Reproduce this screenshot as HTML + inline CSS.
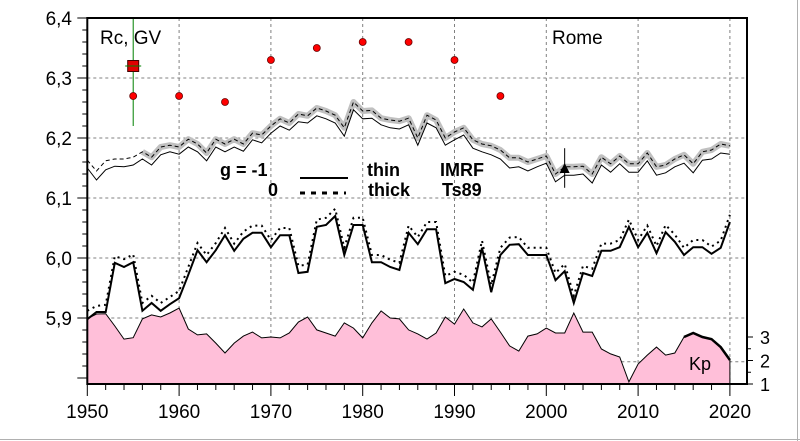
<!DOCTYPE html>
<html><head><meta charset="utf-8"><style>
html,body{margin:0;padding:0;background:#fff;}
svg{display:block;font-family:"Liberation Sans",Arial,sans-serif;}
</style></head><body>
<svg id="chart" width="800" height="441" viewBox="0 0 800 441">
<line x1="797.5" y1="0" x2="797.5" y2="441" stroke="#b0b0b0"/>
<line x1="0" y1="439.5" x2="800" y2="439.5" stroke="#b0b0b0"/>
<g id="grid"></g>
<g id="series"></g>
<g id="axes"></g>
<text x="100" y="44" font-size="19">Rc, GV</text>
<text x="552" y="44" font-size="19">Rome</text>
<text x="689" y="370" font-size="18">Kp</text>
<g font-weight="bold" font-size="18">
<text x="220" y="176">g  = -1</text>
<line x1="300" y1="178" x2="348" y2="178" stroke="#000" stroke-width="2"/>
<text x="367" y="176">thin</text>
<text x="440" y="176">IMRF</text>
<text x="268" y="196">0</text>
<line x1="300" y1="193" x2="346" y2="193" stroke="#000" stroke-width="3" stroke-dasharray="5,6"/>
<text x="368" y="196">thick</text>
<text x="442" y="196">Ts89</text>
</g>
</svg>
<script>
const years = [];
for (let y = 1950; y <= 2020; y++) years.push(y);
const thinUpper = [6.150,6.130,6.147,6.153,6.152,6.155,6.165,6.155,6.172,6.177,
6.173,6.185,6.177,6.162,6.185,6.177,6.185,6.178,6.197,6.192,
6.208,6.220,6.213,6.227,6.225,6.237,6.232,6.225,6.203,6.247,
6.232,6.233,6.222,6.217,6.215,6.222,6.188,6.225,6.217,6.188,
6.197,6.205,6.183,6.177,6.172,6.165,6.150,6.152,6.145,6.152,
6.158,6.127,6.138,6.138,6.140,6.125,6.155,6.143,6.157,6.143,
6.143,6.162,6.138,6.142,6.152,6.158,6.142,6.163,6.165,6.175,6.173];
const thickUpper = [6.163,6.145,6.162,6.165,6.165,6.168,6.177,6.168,6.185,6.188,
6.185,6.198,6.190,6.175,6.198,6.190,6.198,6.190,6.208,6.205,
6.220,6.232,6.225,6.240,6.237,6.250,6.245,6.238,6.217,6.260,
6.245,6.246,6.233,6.230,6.228,6.233,6.200,6.238,6.230,6.200,
6.210,6.217,6.197,6.190,6.187,6.180,6.167,6.167,6.160,6.165,
6.170,6.140,6.152,6.152,6.153,6.140,6.168,6.157,6.170,6.157,
6.157,6.175,6.152,6.155,6.165,6.172,6.157,6.177,6.180,6.190,6.187];
const lowSolid = [5.898,5.910,5.910,5.992,5.985,5.993,5.912,5.925,5.912,5.923,
5.933,5.972,6.013,5.993,6.013,6.038,6.012,6.032,6.042,6.042,
6.018,6.038,6.038,5.975,5.977,6.052,6.055,6.070,6.005,6.055,
6.055,5.993,5.993,5.985,5.980,6.042,6.023,6.048,6.048,5.958,
5.965,5.960,5.947,6.017,5.943,6.005,6.022,6.023,6.005,6.005,
6.005,5.963,5.978,5.925,5.975,5.970,6.012,6.012,6.018,6.052,
6.018,6.042,6.008,6.043,6.027,6.005,6.018,6.018,6.007,6.017,6.060];
const lowDotted = [5.912,5.920,5.922,6.003,5.998,6.006,5.925,5.937,5.925,5.935,
5.945,5.985,6.025,6.005,6.025,6.050,6.024,6.044,6.054,6.054,
6.030,6.050,6.050,5.987,5.989,6.064,6.067,6.082,6.017,6.067,
6.067,6.005,6.005,5.997,5.992,6.054,6.035,6.060,6.060,5.970,
5.977,5.972,5.959,6.029,5.955,6.017,6.034,6.035,6.017,6.017,
6.017,5.975,5.990,5.937,5.987,5.982,6.024,6.024,6.030,6.064,
6.030,6.054,6.020,6.055,6.039,6.017,6.030,6.030,6.019,6.029,6.072];
const kp = [3.78,3.98,3.99,3.47,2.91,2.97,3.77,3.94,3.85,4.02,
4.23,3.34,3.09,3.13,2.74,2.32,2.74,3.04,3.21,2.96,
3.00,2.96,3.17,3.64,3.85,3.30,3.17,3.04,3.60,3.38,
2.96,3.60,4.11,3.81,3.77,3.30,3.13,2.91,3.17,3.85,
3.55,4.19,3.60,3.43,3.77,3.21,2.62,2.40,3.04,3.13,
3.38,3.17,3.17,4.02,3.21,3.21,2.49,2.28,2.15,1.09,
1.85,2.23,2.57,2.23,2.32,3.00,3.17,3.00,2.91,2.57,2.02];
const dotYears = [1955,1960,1965,1970,1975,1980,1985,1990,1995];
const dotValues = [6.27,6.27,6.26,6.33,6.35,6.36,6.36,6.33,6.27];
const squareYear = 1955, squareValue = 6.32, squareLow = 6.22, squareHigh = 6.40;
const triYear = 2002, triValue = 6.15, triLow = 6.117, triHigh = 6.183;
const xTicks = [1950,1960,1970,1980,1990,2000,2010,2020];
const yTicks = [6.4,6.3,6.2,6.1,6.0,5.9];
const yTickLabels = ["6,4","6,3","6,2","6,1","6,0","5,9"];
const kpTicks = [1,2,3];

const L=87.3, R=747, T=18, B=384;
const x = yr => L + (yr-1950)*9.18;
const y = v => T + (6.4-v)*600;
const yk = k => B - (k-1)*23.5;
const NS="http://www.w3.org/2000/svg";
function mk(parent, tag, attrs){const e=document.createElementNS(NS,tag);for(const k in attrs)e.setAttribute(k,attrs[k]);document.getElementById(parent).appendChild(e);return e;}
const pts = (arr, s, e) => { let p=[]; for(let i=s;i<=e;i++) p.push(x(years[i]).toFixed(1)+","+y(arr[i]).toFixed(1)); return p.join(" "); };

// grid
xTicks.slice(1).forEach(t=>{
  const g=mk('grid','line',{x1:x(t),y1:T,x2:x(t),y2:B,stroke:'#808080','stroke-dasharray':'3,3'});
  
  
});
yTicks.slice(1).concat([5.827]).forEach(v=>{
  const g=mk('grid','line',{x1:L,y1:y(v),x2:R,y2:y(v),stroke:'#808080','stroke-dasharray':'3,3'});
  
  
});

// Kp area
let kd="M"+x(years[0])+","+B;
years.forEach((yr,i)=>{kd+=" L"+x(yr).toFixed(1)+","+yk(kp[i]).toFixed(1);});
kd+=" L"+x(years[years.length-1])+","+B+" Z";
let ka=mk('series','path',{d:kd,fill:'#ffbfd9',stroke:'#000','stroke-width':1});


let kl=[];for(let i=65;i<years.length;i++)kl.push(x(years[i]).toFixed(1)+","+yk(kp[i]).toFixed(1));
let kt=mk('series','polyline',{points:kl.join(" "),fill:'none',stroke:'#000','stroke-width':2.5});



// upper series
let gb=mk('series','polyline',{points:pts(thickUpper,6,years.length-1),fill:'none',stroke:'#c0c0c0','stroke-width':6,'stroke-linejoin':'round'});


let du=mk('series','polyline',{points:pts(thickUpper,0,years.length-1),fill:'none',stroke:'#000','stroke-width':1,'stroke-dasharray':'4,3'});


let tu=mk('series','polyline',{points:pts(thinUpper,0,years.length-1),fill:'none',stroke:'#000','stroke-width':1});



// lower series
let ld=mk('series','polyline',{points:pts(lowDotted,0,years.length-1),fill:'none',stroke:'#000','stroke-width':2,'stroke-dasharray':'2,4'});


let ls=mk('series','polyline',{points:pts(lowSolid,0,years.length-1),fill:'none',stroke:'#000','stroke-width':2});



// error bars & markers
let eb=mk('series','line',{x1:x(squareYear),y1:y(squareHigh),x2:x(squareYear),y2:y(squareLow),stroke:'#008000','stroke-width':1});


dotValues.forEach((v,i)=>{
  const c=mk('series','circle',{cx:x(dotYears[i]),cy:y(v),r:3.5,fill:'#ff0000',stroke:'#600',"stroke-width":0.8});
  
  
});
let sq=mk('series','rect',{x:x(squareYear)-5.5,y:y(squareValue)-5.5,width:11,height:11,fill:'#e00000',stroke:'#400','stroke-width':1});


let sx=mk('series','line',{x1:x(squareYear)-8,y1:y(squareValue),x2:x(squareYear)+8,y2:y(squareValue),stroke:'#008000','stroke-width':1});


let te=mk('series','line',{x1:x(triYear),y1:y(triHigh),x2:x(triYear),y2:y(triLow),stroke:'#000','stroke-width':1});


const tx=x(triYear), ty=y(triValue);
let tr=mk('series','polygon',{points:(tx-5)+","+(ty+5)+" "+(tx+5)+","+(ty+5)+" "+tx+","+(ty-5),fill:'#000'});



// axes
let fr=mk('axes','path',{d:`M${L},${T} H${R} V${B} H${L} Z`,fill:'none',stroke:'#000','stroke-width':2});


for(let yr=1950;yr<=2020;yr+=2){
  const major=xTicks.includes(yr);
  const t=mk('axes','line',{x1:x(yr),y1:B,x2:x(yr),y2:B+(major?12:6),stroke:'#000','stroke-width':1});
  
  
}
xTicks.forEach(t=>{
  const e=mk('axes','text',{x:x(t),y:418,'font-size':19,'text-anchor':'middle'});
  e.textContent=t;
  
  
});
for(let i=0;i<=30;i++){
  const v=6.4-i*0.02; if(y(v)>B)break;
  const major=i%5===0;
  const t=mk('axes','line',{x1:L-(major?10:5),y1:y(v),x2:L,y2:y(v),stroke:'#000','stroke-width':1});
  
  
}
yTicks.forEach((v,i)=>{
  const e=mk('axes','text',{x:72,y:y(v)+7,'font-size':19,'text-anchor':'end'});
  e.textContent=yTickLabels[i];
  
  
});
[1,1.5,2,2.5,3].forEach(k=>{
  const major=Number.isInteger(k);
  const t=mk('axes','line',{x1:R,y1:yk(k),x2:R+(major?6:4),y2:yk(k),stroke:'#000','stroke-width':1});
  
  
});
kpTicks.forEach(k=>{
  const e=mk('axes','text',{x:760,y:yk(k)+7,'font-size':18});
  e.textContent=k;
  
  
});
</script>
</body></html>
